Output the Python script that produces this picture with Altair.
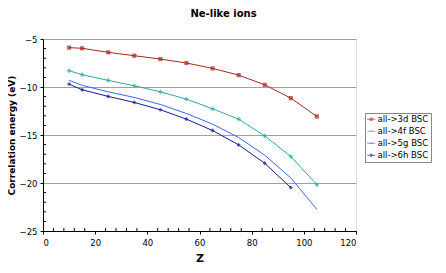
import altair as alt
import pandas as pd

series_names = ["all->3d BSC", "all->4f BSC", "all->5g BSC", "all->6h BSC"]
z_vals = [10, 15, 25, 35, 45, 55, 65, 75, 85, 95, 105]
e_3d = [-5.90, -5.97, -6.39, -6.74, -7.09, -7.50, -8.06, -8.76, -9.77, -11.16, -13.07]
e_4f = [-8.30, -8.72, -9.31, -9.87, -10.50, -11.26, -12.27, -13.35, -15.09, -17.24, -20.17]
e_5g = [-9.31, -9.83, -10.50, -11.09, -11.82, -12.76, -13.87, -15.26, -17.10, -19.47, -22.74]
e_6h = [-9.70, -10.29, -10.98, -11.61, -12.37, -13.35, -14.53, -16.03, -17.94, -20.48]
colors = ["#a3281c", "#2fa8a4", "#3f63ff", "#1a1a96"]
shapes = ["square", "cross", "stroke", "diamond"]
legend_shapes = [
    "M-1.4,0H1.4M-0.3,-0.3H0.3V0.3H-0.3Z",
    "M-1.4,0H1.4M0,-0.35V0.35",
    "M-1.4,0H1.4M-0.4,0.08H0.4M-0.4,-0.08H0.4",
    "M-1.4,0H1.4M0,-0.38L0.38,0L0,0.38L-0.38,0Z",
]

y_minor = [v for v in range(-24, -5) if v % 5 != 0]
x_minor = [v for v in range(4, 120, 4) if v % 20 != 0]

rows = []
for name, vals in zip(series_names, [e_3d, e_4f, e_5g, e_6h]):
    for z, e in zip(z_vals, vals):
        rows.append({"series": name, "legend": name, "z": z, "e": e})
df = pd.DataFrame(rows)

font = "DejaVu Sans"
xscale = alt.Scale(domain=[0, 120], nice=False)
yscale = alt.Scale(domain=[-25, -5], nice=False)
color = alt.Color("series:N", scale=alt.Scale(domain=series_names, range=colors), legend=None)
shape = alt.Shape("series:N", scale=alt.Scale(domain=series_names, range=shapes), legend=None)

x_enc = alt.X("z:Q", scale=xscale,
              axis=alt.Axis(values=[0, 20, 40, 60, 80, 100, 120], title="Z", titleFont=font,
                            titleFontSize=11, titleFontWeight="bold", titleColor="black",
                            labelFont=font, labelFontSize=8.5, labelColor="black",
                            domainColor="black", tickColor="black", grid=False,
                            tickSize=3, labelPadding=4, titlePadding=6))
y_enc = alt.Y("e:Q", scale=yscale,
              axis=alt.Axis(values=[-25, -20, -15, -10, -5], title="Correlation energy (eV)",
                            titleFont=font, titleFontSize=9, titleFontWeight="bold",
                            titleColor="black", labelFont=font, labelFontSize=8.5,
                            labelColor="black", domainColor="black", tickColor="black",
                            gridColor="#a0a0a0", tickSize=3, labelPadding=3, titlePadding=3))

lines = alt.Chart(df).mark_line(strokeWidth=1).encode(x=x_enc, y=y_enc, color=color, detail="series:N")
points = alt.Chart(df).mark_point(filled=True, size=18, strokeWidth=1.2).encode(
    x=alt.X("z:Q", scale=xscale), y=alt.Y("e:Q", scale=yscale), color=color, shape=shape)

legend_layer = alt.Chart(df).transform_filter("false").mark_point(filled=False, strokeWidth=1.2).encode(
    x=alt.X("z:Q", scale=xscale), y=alt.Y("e:Q", scale=yscale),
    color=alt.Color("legend:N", scale=alt.Scale(domain=series_names, range=colors),
                    legend=alt.Legend(title=None, orient="none", legendX=322, legendY=74,
                                      fillColor="white", strokeColor="#888888", padding=2,
                                      labelFont=font, labelFontSize=8.5, labelColor="black",
                                      symbolSize=33, rowPadding=3, symbolStrokeWidth=1.2,
                                      symbolOffset=0, labelOffset=2)),
    shape=alt.Shape("legend:N", scale=alt.Scale(domain=series_names, range=legend_shapes)),
)

ymin_df = pd.DataFrame({"v": y_minor})
xmin_df = pd.DataFrame({"v": x_minor})
yticks = alt.Chart(ymin_df).mark_rule(color="black", strokeWidth=1).encode(
    y=alt.Y("v:Q", scale=yscale), x=alt.value(0), x2=alt.value(3))
xticks = alt.Chart(xmin_df).mark_rule(color="black", strokeWidth=1).encode(
    x=alt.X("v:Q", scale=xscale), y=alt.value(189), y2=alt.value(192))

chart = alt.layer(lines, points, yticks, xticks, legend_layer).resolve_scale(
    color="independent", shape="independent"
).properties(
    width=313, height=192,
    title=alt.TitleParams("Ne-like ions", font=font, fontSize=10, fontWeight="bold",
                          color="black", anchor="middle", dx=24, offset=16),
    autosize=alt.AutoSizeParams(type="none"),
    padding={"left": 35, "top": 31, "right": 82, "bottom": 34},
).configure_view(stroke="black", strokeWidth=1.5).configure(background="white")

chart.save("out.html", embed_options={"renderer": "svg", "actions": False})
